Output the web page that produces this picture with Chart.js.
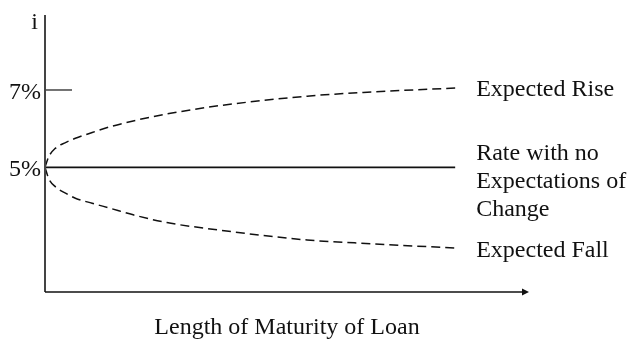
<!DOCTYPE html>
<html>
<head>
<meta charset="utf-8">
<script src="https://cdn.jsdelivr.net/npm/chart.js@4/dist/chart.umd.min.js"></script>
<style>
    body { margin: 0; background: #fff; }
    #wrap { width: 637px; height: 342px; position: relative; }
</style>
</head>
<body>
<div id="wrap"><canvas id="myChart1"></canvas></div>
<script>
// maturity (arbitrary units along the x axis)
var maturity = [0, 0.09, 0.25, 0.5, 0.74, 1.15, 1.59, 2.15, 2.97, 4.22, 6.39, 8.0, 10];
// interest rate i (%)
var riseRates = [5, 5.27, 5.49, 5.64, 5.75, 5.90, 6.05, 6.20, 6.38, 6.59, 6.84, 6.95, 7.05];
var flatRates = [5, 5, 5, 5, 5, 5, 5, 5, 5, 5, 5, 5, 5];
var fallRates = [5, 4.71, 4.50, 4.33, 4.20, 4.07, 3.94, 3.77, 3.57, 3.38, 3.12, 3.02, 2.91];

var yTickValues = [7, 5];
var yTickLabels = ['7%', '5%'];
var seriesNames = ['Expected Rise', ['Rate with no', 'Expectations of', 'Change'], 'Expected Fall'];
var yAxisTitle = 'i';
var xAxisTitle = 'Length of Maturity of Loan';

document.addEventListener('DOMContentLoaded', function () {
    var ctx = document.getElementById('myChart1');
    var font = '24px "Liberation Serif", "Times New Roman", serif';

    function toPoints(ys) {
        return maturity.map(function (x, i) { return { x: x, y: ys[i] }; });
    }

    // draws axes, arrow, tick labels and the series labels
    var annotate = {
        id: 'annotate',
        afterDraw: function (chart) {
            var c = chart.ctx;
            var xs = chart.scales.x;
            var ys = chart.scales.y;
            var area = chart.chartArea;
            c.save();

            // y axis
            c.strokeStyle = '#444';
            c.lineWidth = 2;
            c.beginPath();
            c.moveTo(area.left, area.top);
            c.lineTo(area.left, area.bottom);
            c.stroke();

            // x axis with arrow
            c.strokeStyle = '#111';
            c.lineWidth = 1.5;
            c.beginPath();
            c.moveTo(area.left, area.bottom);
            c.lineTo(area.right - 5, area.bottom);
            c.stroke();
            c.fillStyle = '#111';
            c.beginPath();
            c.moveTo(area.right, area.bottom);
            c.lineTo(area.right - 7, area.bottom - 3.5);
            c.lineTo(area.right - 7, area.bottom + 3.5);
            c.closePath();
            c.fill();

            // 7% tick mark
            c.strokeStyle = '#444';
            c.lineWidth = 1.5;
            var y7 = ys.getPixelForValue(7);
            c.beginPath();
            c.moveTo(area.left, y7);
            c.lineTo(area.left + 27, y7);
            c.stroke();

            c.fillStyle = '#111';
            c.font = font;
            c.textBaseline = 'alphabetic';

            // y tick labels
            c.textAlign = 'right';
            yTickValues.forEach(function (v, i) {
                c.fillText(yTickLabels[i], area.left - 4, ys.getPixelForValue(v) + 9);
            });
            c.fillText(yAxisTitle, area.left - 7, area.top + 14);

            // x axis title
            c.textAlign = 'center';
            c.fillText(xAxisTitle, (area.left + area.right) / 2, area.bottom + 42);

            // series labels at the end of each line
            c.textAlign = 'left';
            var lx = xs.getPixelForValue(maturity[maturity.length - 1]) + 21;
            var last = maturity.length - 1;
            c.fillText(seriesNames[0], lx, ys.getPixelForValue(riseRates[last]) + 8);
            var fy = ys.getPixelForValue(flatRates[last]) - 7;
            seriesNames[1].forEach(function (line, i) {
                c.fillText(line, lx, fy + i * 28);
            });
            c.fillText(seriesNames[2], lx, ys.getPixelForValue(fallRates[last]) + 9);

            c.restore();
        }
    };

    var myChart = new Chart(ctx, {
        type: 'scatter',
        data: {
            datasets: [
                {
                    label: 'Expected Rise',
                    data: toPoints(riseRates),
                    showLine: true,
                    borderColor: '#111',
                    borderWidth: 1.5,
                    borderDash: [9, 5],
                    pointRadius: 0,
                    cubicInterpolationMode: 'monotone'
                },
                {
                    label: 'Rate with no Expectations of Change',
                    data: toPoints(flatRates),
                    showLine: true,
                    borderColor: '#111',
                    borderWidth: 1.8,
                    pointRadius: 0
                },
                {
                    label: 'Expected Fall',
                    data: toPoints(fallRates),
                    showLine: true,
                    borderColor: '#111',
                    borderWidth: 1.5,
                    borderDash: [9, 5],
                    pointRadius: 0,
                    cubicInterpolationMode: 'monotone'
                }
            ]
        },
        options: {
            responsive: true,
            maintainAspectRatio: false,
            animation: false,
            layout: {
                padding: { left: 45, top: 15, right: 108, bottom: 50 }
            },
            plugins: {
                legend: { display: false },
                tooltip: { enabled: false }
            },
            scales: {
                x: { type: 'linear', min: 0, max: 11.8, display: false },
                y: { type: 'linear', min: 1.774, max: 8.94, display: false }
            }
        },
        plugins: [annotate]
    });
});
</script>
</body>
</html>
